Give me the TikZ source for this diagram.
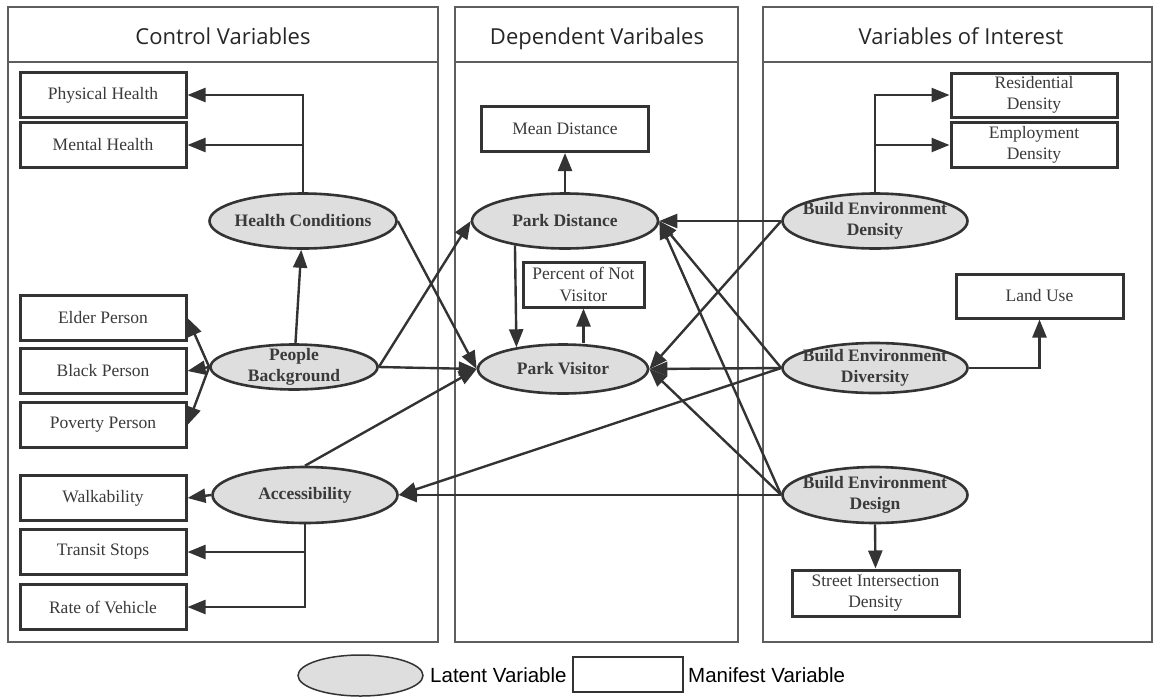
\documentclass[tikz,border=0pt]{standalone}
\usepackage{fontspec}
\setmainfont{Liberation Serif}
\newfontfamily\headfont{Open Sans}
\newfontfamily\keyfont{Liberation Sans}
\usetikzlibrary{arrows.meta}
\usetikzlibrary{shapes.geometric}

\definecolor{linegray}{HTML}{333333}
\definecolor{panelgray}{HTML}{5E5E5E}
\definecolor{textgray}{HTML}{3A3A3A}
\definecolor{latentfill}{HTML}{DEDEDE}

\begin{document}
\begin{tikzpicture}[x=1pt,y=-1pt,
	manifest/.style={draw=linegray, line width=3pt, minimum width=166pt, minimum height=45pt, inner sep=0pt, align=center, text=textgray, font=\fontsize{17.5}{21.5}\selectfont},
	latent/.style={ellipse, draw=linegray, line width=2.6pt, fill=latentfill, minimum width=185pt, minimum height=55pt, inner sep=-20pt, align=center, text=textgray, font=\fontsize{17.5}{21.5}\selectfont\bfseries},
	link/.style={draw=linegray, line width=2.4pt, -{Triangle[length=18pt,width=14pt]}},
	panel/.style={draw=panelgray, line width=1.3pt},
	heading/.style={anchor=base, font=\headfont\fontsize{22}{26}\selectfont, text=black!85},
	keytext/.style={anchor=west, inner sep=0pt, font=\keyfont\fontsize{20.5}{24}\selectfont}]
	\useasboundingbox (0,0) rectangle (1154,697);
	
	% panels
	\draw[panel] (8,7) rectangle (438,642);
	\draw[panel] (8,62) -- (438,62);
	\draw[panel] (455,7) rectangle (738,642);
	\draw[panel] (455,62) -- (738,62);
	\draw[panel] (763,7) rectangle (1152,642);
	\draw[panel] (763,62) -- (1152,62);
	\node[heading] (ctrltitle) at (223,44) {Control Variables};
	\node[heading] (deptitle) at (597,44) {Dependent Varibales};
	\node[heading] (inttitle) at (961,44) {Variables of Interest};
	
	% control variables
	\node[manifest] (phys) at (103,95) {Physical Health};
	\node[manifest] (mental) at (103,145) {Mental Health};
	\node[manifest] (elder) at (103,318) {Elder Person};
	\node[manifest] (black) at (103,371) {Black Person};
	\node[manifest] (poverty) at (103,425) {Poverty Person};
	\node[manifest] (walk) at (103,498) {Walkability};
	\node[manifest] (transit) at (103,552) {Transit Stops};
	\node[manifest] (vehicle) at (103,607) {Rate of Vehicle};
	\node[latent, minimum width=187pt] (health) at (303,221) {Health Conditions};
	\node[latent, minimum width=167pt, minimum height=45pt] (people) at (294,367) {People\\Background};
	\node[latent, minimum height=56pt] (access) at (305,495) {Accessibility};
	
	% dependent variables
	\node[manifest, minimum width=167pt] (meandist) at (565,129) {Mean Distance};
	\node[manifest, minimum width=121pt] (notvisit) at (583.5,284.5) {Percent of Not\\Visitor};
	\node[latent, minimum width=186pt] (parkdist) at (565,221) {Park Distance};
	\node[latent, minimum width=170pt, minimum height=49pt] (parkvisit) at (563,369) {Park Visitor};
	
	% variables of interest
	\node[manifest, minimum height=44pt] (resid) at (1034,95) {Residential\\Density};
	\node[manifest] (employ) at (1034,145) {Employment\\Density};
	\node[manifest, minimum width=167pt, minimum height=44pt] (landuse) at (1039.5,296) {Land Use};
	\node[manifest, minimum width=167pt, minimum height=46pt] (street) at (875.5,593) {Street Intersection\\Density};
	\node[latent] (bedens) at (875,221) {Build Environment\\Density};
	\node[latent, minimum height=50pt] (bediv) at (875,368) {Build Environment\\Diversity};
	\node[latent, minimum height=56pt] (bedes) at (875,495) {Build Environment\\Design};
	
	% measurement arrows
	\draw[link] (health.north) |- (phys.east);
	\draw[link] (health.north) |- (mental.east);
	\draw[link] (people.west) -- (elder.east);
	\draw[link] (people.west) -- (black.east);
	\draw[link] (people.west) -- (poverty.east);
	\draw[link] (access.west) -- (walk.east);
	\draw[link] (access.south) |- (transit.east);
	\draw[link] (access.south) |- (vehicle.east);
	\draw[link] (parkdist.north) -- (meandist.south);
	\draw[link] (parkvisit.north -| notvisit.south) -- (notvisit.south);
	\draw[link] (bedens.north) |- (resid.west);
	\draw[link] (bedens.north) |- (employ.west);
	\draw[link] (bediv.east) -| (landuse.south);
	\draw[link] (bedes.south) -- (street.north);
	
	% structural paths
	\draw[link] (people) -- (health);
	\draw[link] (parkdist.206) -- (parkvisit.155);
	\draw[link] (health.east) -- (parkvisit.west);
	\draw[link] (people.east) -- (parkdist.west);
	\draw[link] (people.east) -- (parkvisit.west);
	\draw[link] (access.north) -- (parkvisit.west);
	\draw[link] (bedens.west) -- (parkdist.east);
	\draw[link] (bedens.west) -- (parkvisit.east);
	\draw[link] (bediv.west) -- (parkdist.east);
	\draw[link] (bediv.west) -- (parkvisit.east);
	\draw[link] (bediv.west) -- (access.east);
	\draw[link] (bedes.west) -- (parkdist.east);
	\draw[link] (bedes.west) -- (parkvisit.east);
	\draw[link] (bedes.west) -- (access.east);
	
	% legend
	\node[latent, minimum width=125pt, minimum height=41pt, line width=1.5pt] (keylatent) at (360.5,675.5) {};
	\node[keytext] (keylatentlabel) at (430,675) {Latent Variable};
	\node[draw=linegray, line width=1.5pt, minimum width=110pt, minimum height=35pt, inner sep=0pt] (keymanifest) at (628,674.5) {};
	\node[keytext] (keymanifestlabel) at (688,675) {Manifest Variable};
\end{tikzpicture}
\end{document}
